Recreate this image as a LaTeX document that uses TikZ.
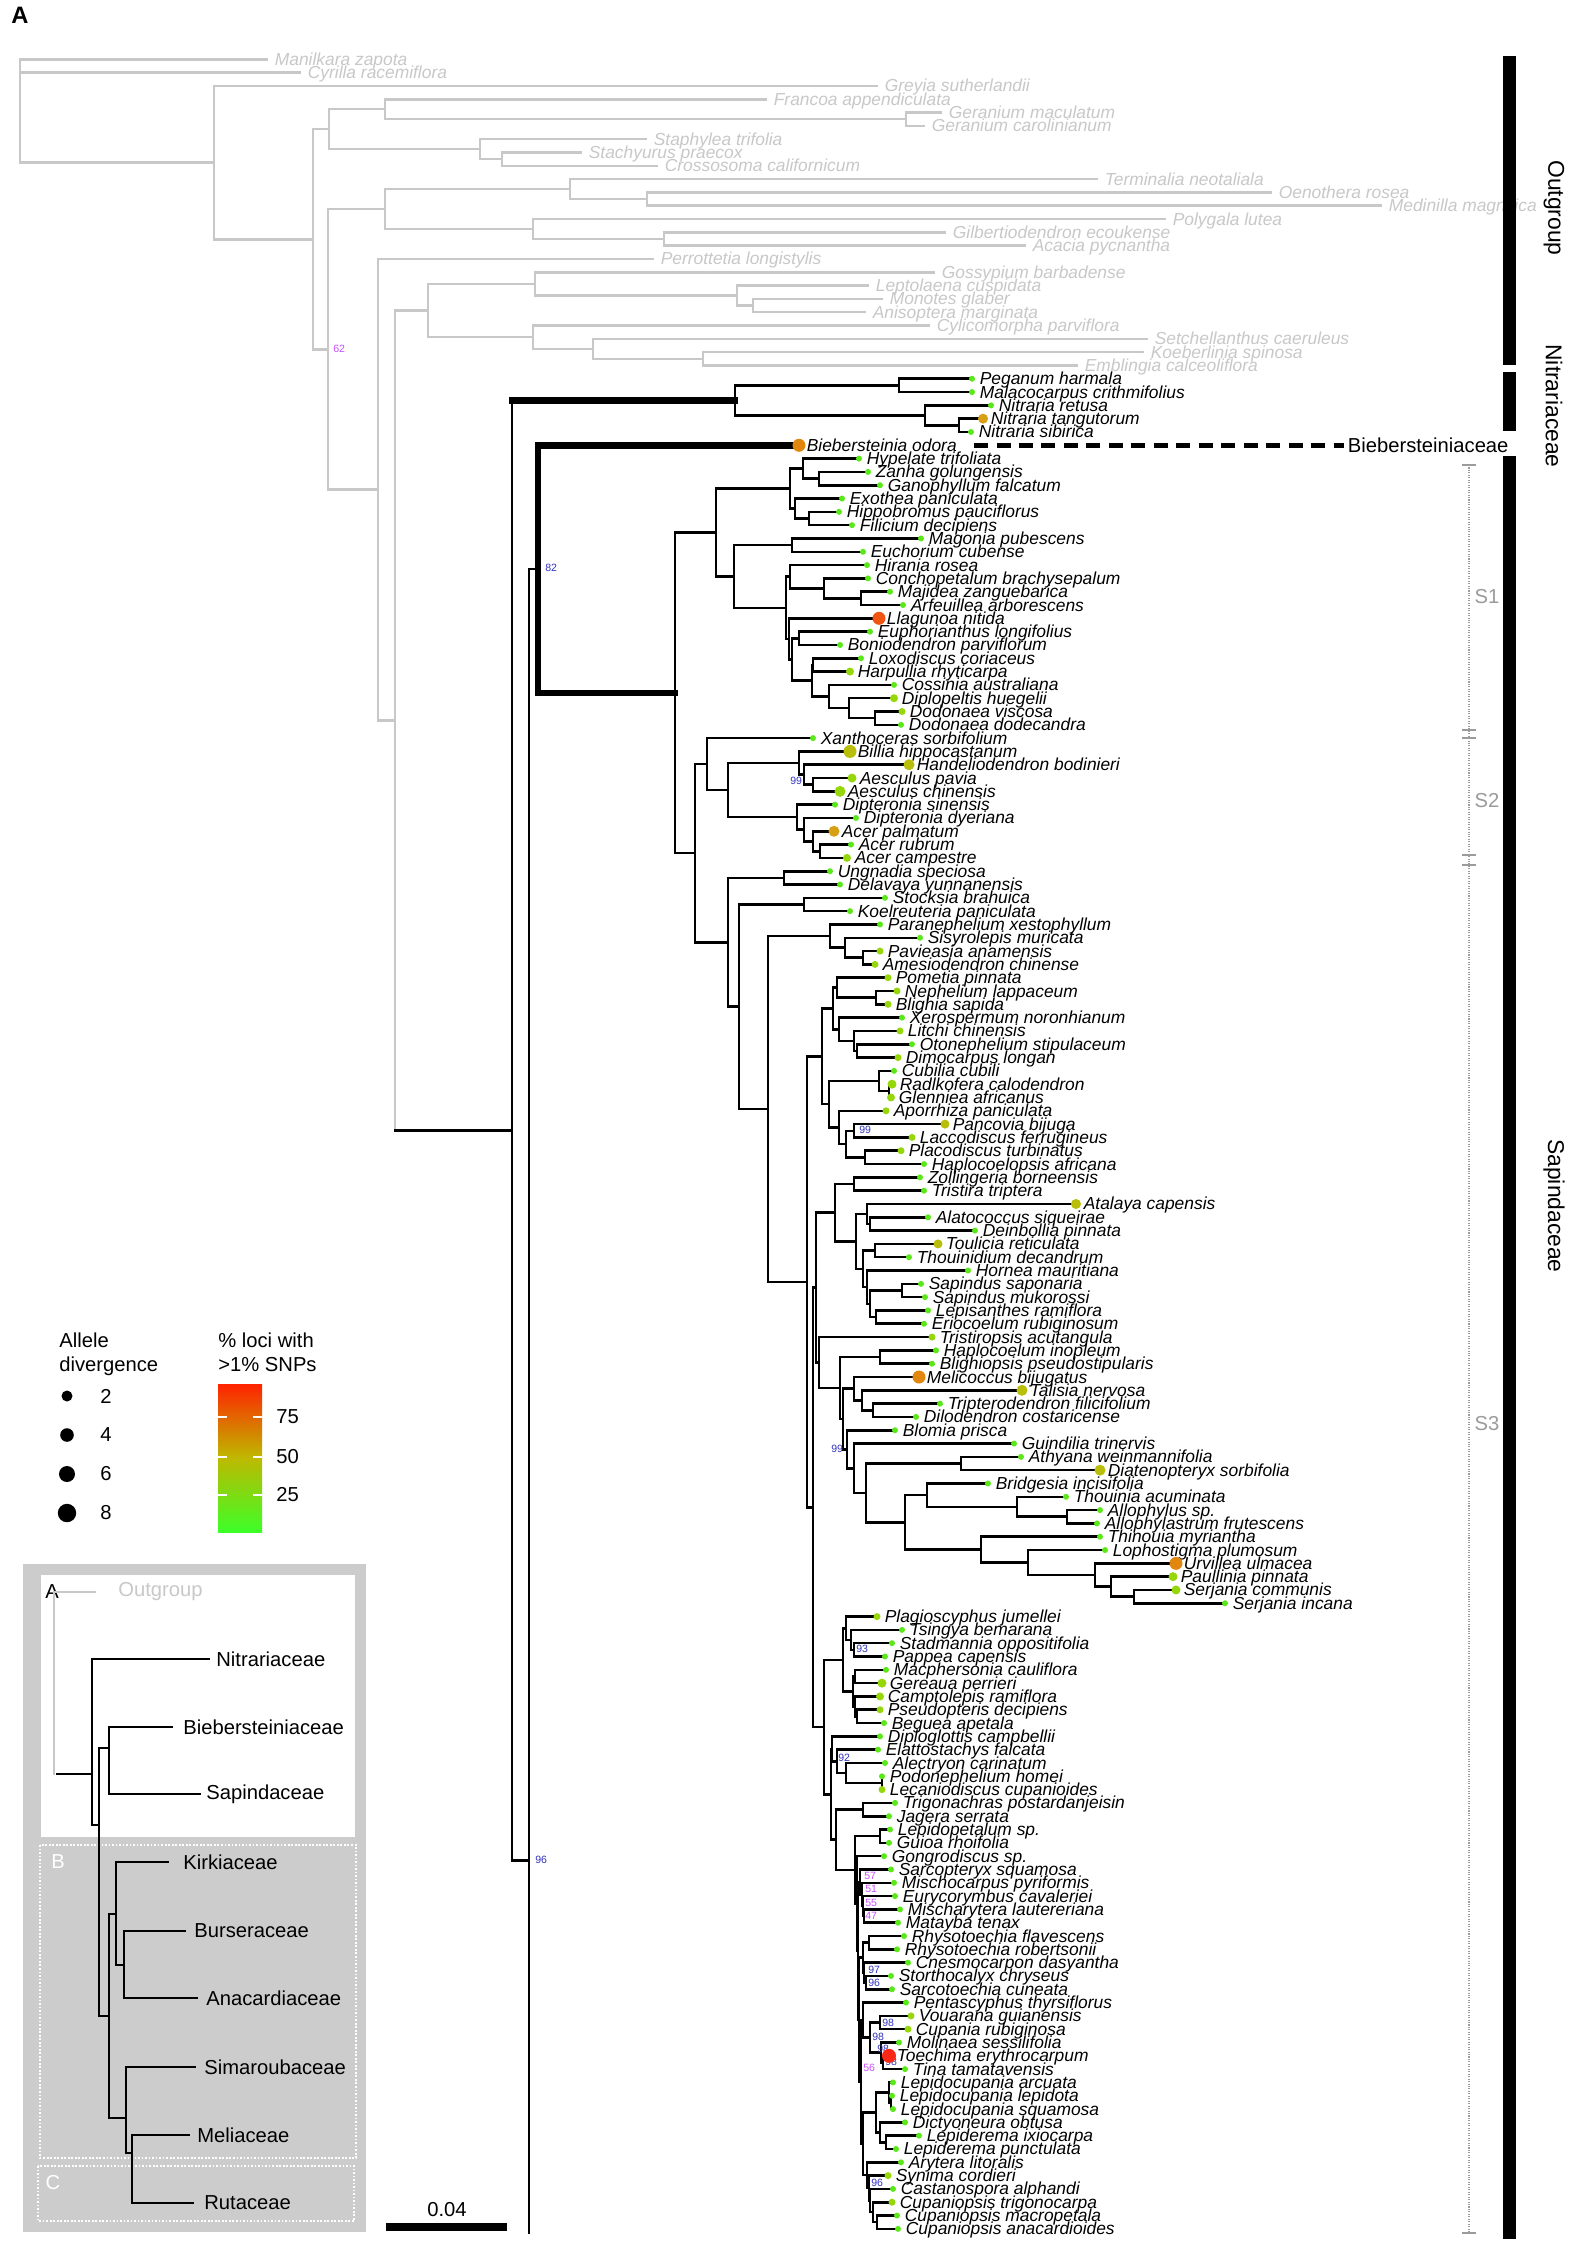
\documentclass[tikz,border=0pt]{standalone}
\usepackage{fontspec}
\setmainfont{Liberation Sans}
\usetikzlibrary{calc}
\usetikzlibrary{backgrounds}

\definecolor{ogrey}{RGB}{200,200,200}
\definecolor{gA}{RGB}{90,232,25}
\definecolor{gB}{RGB}{150,215,10}
\definecolor{gC}{RGB}{185,190,10}
\definecolor{gD}{RGB}{215,160,20}
\definecolor{gE}{RGB}{225,135,15}
\definecolor{gF}{RGB}{240,85,20}
\definecolor{gG}{RGB}{250,40,20}
\definecolor{bsblue}{RGB}{50,50,190}
\definecolor{bspink}{RGB}{200,80,255}
\definecolor{boxgrey}{RGB}{204,204,204}
\definecolor{sgrey}{RGB}{155,155,155}
\definecolor{cRed}{RGB}{255,35,0}
\definecolor{cMid}{RGB}{190,185,0}
\definecolor{cGrn}{RGB}{60,255,40}

\tikzset{
  br/.style={line width=1.45pt, line cap=rect},
  og/.style={br, draw=ogrey},
  thk/.style={line width=3.8pt, line cap=rect},
  tiplab/.style={anchor=base west, inner sep=0pt, xshift=0.15cm, yshift=-0.12cm,
    font=\fontsize{9.9}{10}\selectfont\itshape},
  oglab/.style={tiplab, text=ogrey},
  bsval/.style={font=\fontsize{6}{6}\selectfont, inner sep=0pt, anchor=west},
  leg/.style={font=\fontsize{11.5}{13}\selectfont, inner sep=0pt},
  side/.style={font=\fontsize{13}{13}\selectfont, rotate=-90, inner sep=0pt},
}

% tip: name, x, row, colour, dot radius (px), label
\newcommand{\taxon}[6]{%
  \coordinate (#1) at (#2,{59.3+13.31*#3});
  \fill[#4] (#1) circle[radius={#5*0.02cm}];
  \node[tiplab] (#1-l) at (#1) {#6};}
\newcommand{\gtaxon}[4]{\taxon{#1}{#2}{#3}{gA}{3}{#4}}
\newcommand{\ogtaxon}[4]{%
  \coordinate (#1) at (#2,{59.3+13.31*#3});
  \node[oglab] (#1-l) at (#1) {#4};}
% inner node: name, x, child, child
\newcommand{\clade}[4]{%
  \path let \p1=(#3), \p2=(#4) in ({#2*0.02cm},{(\y1+\y2)/2}) coordinate (#1);}

\begin{document}
\begin{tikzpicture}[x=0.02cm,y=-0.02cm]
\useasboundingbox (0,0) rectangle (1579,2263);

\node[font=\fontsize{13.5}{14}\selectfont\bfseries, inner sep=0pt] (panel) at (20,15.5) {A};

% outgroup
\ogtaxon{man}{267}{0}{Manilkara zapota}
\ogtaxon{cyr}{300}{1}{Cyrilla racemiflora}
\ogtaxon{gre}{877}{2}{Greyia sutherlandii}
\ogtaxon{fra}{766}{3}{Francoa appendiculata}
\ogtaxon{gma}{941}{4}{Geranium maculatum}
\ogtaxon{gca}{924}{5}{Geranium carolinianum}
\ogtaxon{sta}{646}{6}{Staphylea trifolia}
\ogtaxon{sty}{581}{7}{Stachyurus praecox}
\ogtaxon{cro}{657}{8}{Crossosoma californicum}
\ogtaxon{ter}{1097}{9}{Terminalia neotaliala}
\ogtaxon{oen}{1271}{10}{Oenothera rosea}
\ogtaxon{med}{1381}{11}{Medinilla magnifica}
\ogtaxon{pol}{1165}{12}{Polygala lutea}
\ogtaxon{gil}{945}{13}{Gilbertiodendron ecoukense}
\ogtaxon{aca}{1025}{14}{Acacia pycnantha}
\ogtaxon{per}{653}{15}{Perrottetia longistylis}
\ogtaxon{gos}{934}{16}{Gossypium barbadense}
\ogtaxon{lep}{868}{17}{Leptolaena cuspidata}
\ogtaxon{mon}{882}{18}{Monotes glaber}
\ogtaxon{ani}{865}{19}{Anisoptera marginata}
\ogtaxon{cyl}{929}{20}{Cylicomorpha parviflora}
\ogtaxon{setch}{1147}{21}{Setchellanthus caeruleus}
\ogtaxon{koe}{1143}{22}{Koeberlinia spinosa}
\ogtaxon{emb}{1077}{23}{Emblingia calceoliflora}

\clade{ger}{906}{gma}{gca}
\clade{fg}{385}{fra}{ger}
\clade{stc}{502}{sty}{cro}
\clade{stp}{480}{sta}{stc}
\clade{oz1}{329}{fg}{stp}
\clade{oe}{647}{oen}{med}
\clade{tm}{570}{ter}{oe}
\clade{ga}{664}{gil}{aca}
\clade{pg}{533}{pol}{ga}
\clade{zt}{385}{tm}{pg}
\clade{mo}{753}{mon}{ani}
\clade{lm}{737}{lep}{mo}
\clade{gl}{535}{gos}{lm}
\clade{ke}{703}{koe}{emb}
\clade{sk}{593}{setch}{ke}
\clade{cs}{533}{cyl}{sk}
\clade{on3}{428}{gl}{cs}

% Nitrariaceae, Biebersteiniaceae
\gtaxon{peg}{972}{24}{Peganum harmala}
\gtaxon{mal}{972}{25}{Malacocarpus crithmifolius}
\gtaxon{nre}{991}{26}{Nitraria retusa}
\taxon{nta}{983}{27}{gD}{5}{Nitraria tangutorum}
\gtaxon{nsi}{971}{28}{Nitraria sibirica}
\clade{pm}{899}{peg}{mal}
\clade{ns}{959}{nta}{nsi}
\clade{nr}{925}{nre}{ns}
\clade{nit}{735}{pm}{nr}
\taxon{bie}{799}{29}{gE}{6.5}{Biebersteinia odora}

% S1
\gtaxon{hyp}{859}{30}{Hypelate trifoliata}
\gtaxon{zan}{868}{31}{Zanha golungensis}
\gtaxon{gan}{880}{32}{Ganophyllum falcatum}
\gtaxon{exo}{842}{33}{Exothea paniculata}
\gtaxon{hip}{839}{34}{Hippobromus pauciflorus}
\gtaxon{fil}{852}{35}{Filicium decipiens}
\gtaxon{mag}{921}{36}{Magonia pubescens}
\gtaxon{euc}{863}{37}{Euchorium cubense}
\gtaxon{hir}{867}{38}{Hirania rosea}
\gtaxon{con}{868}{39}{Conchopetalum brachysepalum}
\gtaxon{maj}{890}{40}{Majidea zanguebarica}
\gtaxon{arf}{903}{41}{Arfeuillea arborescens}
\taxon{lla}{879}{42}{gF}{6.5}{Llagunoa nitida}
\gtaxon{eup}{870}{43}{Euphorianthus longifolius}
\gtaxon{bon}{840}{44}{Boniodendron parviflorum}
\gtaxon{lox}{861}{45}{Loxodiscus coriaceus}
\taxon{har}{850}{46}{gB}{4}{Harpullia rhyticarpa}
\gtaxon{cos}{894}{47}{Cossinia australiana}
\taxon{dip}{894}{48}{gB}{4}{Diplopeltis huegelii}
\taxon{dvi}{902}{49}{gB}{3.5}{Dodonaea viscosa}
\gtaxon{ddo}{901}{50}{Dodonaea dodecandra}

\clade{zg}{819}{zan}{gan}
\clade{hz}{803}{hyp}{zg}
\clade{hf}{809}{hip}{fil}
\clade{eh}{795}{exo}{hf}
\clade{s1a}{790}{hz}{eh}
\clade{me}{792}{mag}{euc}
\clade{mar}{861}{maj}{arf}
\clade{cmj}{824}{con}{mar}
\clade{hc}{790}{hir}{cmj}
\clade{eb}{799}{eup}{bon}
\clade{lh}{813}{lox}{har}
\clade{dd}{875}{dvi}{ddo}
\clade{dp}{849}{dip}{dd}
\clade{cd}{829}{cos}{dp}
\clade{lc}{812}{lh}{cd}
\clade{l3}{792}{eb}{lc}
\clade{l2}{789}{lla}{l3}
\clade{l1}{786}{hc}{l2}
\clade{s1b}{734}{me}{l1}
\clade{s1}{716}{s1a}{s1b}

% S2
\gtaxon{xan}{813}{51}{Xanthoceras sorbifolium}
\taxon{bil}{850}{52}{gC}{6.5}{Billia hippocastanum}
\taxon{han}{909}{53}{gC}{5.5}{Handeliodendron bodinieri}
\taxon{aep}{852}{54}{gB}{4.5}{Aesculus pavia}
\taxon{aec}{840}{55}{gB}{5.5}{Aesculus chinensis}
\gtaxon{dsi}{835}{56}{Dipteronia sinensis}
\gtaxon{ddy}{856}{57}{Dipteronia dyeriana}
\taxon{apa}{834}{58}{gD}{5.5}{Acer palmatum}
\gtaxon{aru}{851}{59}{Acer rubrum}
\taxon{acm}{847}{60}{gB}{4}{Acer campestre}

\clade{ae}{813}{aep}{aec}
\clade{ha}{804}{han}{ae}
\clade{bh}{799}{bil}{ha}
\clade{ar}{820}{aru}{acm}
\clade{ap}{813}{apa}{ar}
\clade{dy}{804}{ddy}{ap}
\clade{ds}{797}{dsi}{dy}
\clade{s2b}{728}{bh}{ds}
\clade{s2}{707}{xan}{s2b}

% S3
\gtaxon{ung}{830}{61}{Ungnadia speciosa}
\gtaxon{del}{840}{62}{Delavaya yunnanensis}
\gtaxon{sto}{885}{63}{Stocksia brahuica}
\gtaxon{kol}{850}{64}{Koelreuteria paniculata}
\gtaxon{par}{880}{65}{Paranephelium xestophyllum}
\gtaxon{sis}{920}{66}{Sisyrolepis muricata}
\taxon{pav}{880}{67}{gB}{3.5}{Pavieasia anamensis}
\taxon{ame}{875}{68}{gB}{3.5}{Amesiodendron chinense}
\taxon{pom}{888}{69}{gB}{3.5}{Pometia pinnata}
\taxon{nep}{897}{70}{gB}{3.5}{Nephelium lappaceum}
\taxon{bli}{888}{71}{gB}{3.5}{Blighia sapida}
\gtaxon{xer}{902}{72}{Xerospermum noronhianum}
\taxon{lit}{900}{73}{gB}{3.5}{Litchi chinensis}
\gtaxon{oto}{912}{74}{Otonephelium stipulaceum}
\taxon{dim}{898}{75}{gB}{3.5}{Dimocarpus longan}
\gtaxon{cub}{894}{76}{Cubilia cubili}
\taxon{rad}{892}{77}{gB}{4.5}{Radlkofera calodendron}
\taxon{gle}{891}{78}{gB}{4}{Glenniea africanus}
\taxon{apo}{886}{79}{gB}{3.5}{Aporrhiza paniculata}
\taxon{pan}{945}{80}{gC}{4.5}{Pancovia bijuga}
\taxon{lac}{912}{81}{gB}{3.5}{Laccodiscus ferrugineus}
\taxon{pla}{901}{82}{gB}{3.5}{Placodiscus turbinatus}
\gtaxon{hpa}{924}{83}{Haplocoelopsis africana}
\gtaxon{zol}{920}{84}{Zollingeria borneensis}
\gtaxon{tri}{924}{85}{Tristira triptera}
\taxon{ata}{1076}{86}{gC}{5}{Atalaya capensis}
\gtaxon{ala}{928}{87}{Alatococcus siqueirae}
\gtaxon{dei}{975}{88}{Deinbollia pinnata}
\taxon{tou}{938}{89}{gC}{4.5}{Toulicia reticulata}
\gtaxon{tho}{909}{90}{Thouinidium decandrum}
\gtaxon{hor}{968}{91}{Hornea mauritiana}
\gtaxon{ssa}{921}{92}{Sapindus saponaria}
\gtaxon{smu}{925}{93}{Sapindus mukorossi}
\gtaxon{lpr}{928}{94}{Lepisanthes ramiflora}
\gtaxon{eri}{924}{95}{Eriocoelum rubiginosum}
\taxon{tra}{932}{96}{gB}{3.5}{Tristiropsis acutangula}
\gtaxon{hin}{936}{97}{Haplocoelum inopleum}
\gtaxon{bps}{932}{98}{Blighiopsis pseudostipularis}
\taxon{mel}{919}{99}{gE}{6.5}{Melicoccus bijugatus}
\taxon{tal}{1022}{100}{gC}{5.5}{Talisia nervosa}
\gtaxon{tfi}{940}{101}{Tripterodendron filicifolium}
\gtaxon{dil}{916}{102}{Dilodendron costaricense}
\gtaxon{blo}{895}{103}{Blomia prisca}
\gtaxon{gui}{1014}{104}{Guindilia trinervis}
\gtaxon{ath}{1021}{105}{Athyana weinmannifolia}
\taxon{dia}{1100}{106}{gC}{5.5}{Diatenopteryx sorbifolia}
\gtaxon{bri}{988}{107}{Bridgesia incisifolia}
\gtaxon{thu}{1066}{108}{Thouinia acuminata}
\gtaxon{all}{1100}{109}{Allophylus sp.}
\gtaxon{alf}{1097}{110}{Allophylastrum frutescens}
\gtaxon{thi}{1100}{111}{Thinouia myriantha}
\gtaxon{lop}{1105}{112}{Lophostigma plumosum}
\taxon{urv}{1176}{113}{gE}{6.5}{Urvillea ulmacea}
\taxon{pau}{1173}{114}{gB}{4.5}{Paullinia pinnata}
\taxon{sco}{1176}{115}{gB}{4.5}{Serjania communis}
\gtaxon{sin}{1225}{116}{Serjania incana}
\taxon{plg}{877}{117}{gB}{3.5}{Plagioscyphus jumellei}
\gtaxon{tsi}{902}{118}{Tsingya bemarana}
\gtaxon{stm}{892}{119}{Stadmannia oppositifolia}
\gtaxon{pap}{885}{120}{Pappea capensis}
\gtaxon{mac}{886}{121}{Macphersonia cauliflora}
\taxon{gpe}{882}{122}{gB}{4.5}{Gereaua perrieri}
\taxon{cam}{880}{123}{gB}{4}{Camptolepis ramiflora}
\taxon{pse}{880}{124}{gB}{3.5}{Pseudopteris decipiens}
\gtaxon{beg}{884}{125}{Beguea apetala}
\gtaxon{dpc}{880}{126}{Diploglottis campbellii}
\gtaxon{ela}{878}{127}{Elattostachys falcata}
\gtaxon{alc}{885}{128}{Alectryon carinatum}
\gtaxon{pod}{882}{129}{Podonephelium homei}
\taxon{lec}{882}{130}{gB}{3.5}{Lecaniodiscus cupanioides}
\gtaxon{trg}{895}{131}{Trigonachras postardanjeisin}
\gtaxon{jag}{889}{132}{Jagera serrata}
\gtaxon{lpd}{890}{133}{Lepidopetalum sp.}
\gtaxon{gio}{889}{134}{Guioa rhoifolia}
\gtaxon{gon}{884}{135}{Gongrodiscus sp.}
\gtaxon{sar}{891}{136}{Sarcopteryx squamosa}
\gtaxon{mis}{894}{137}{Mischocarpus pyriformis}
\gtaxon{eur}{895}{138}{Eurycorymbus cavaleriei}
\gtaxon{mly}{900}{139}{Mischarytera lautereriana}
\gtaxon{mat}{898}{140}{Matayba tenax}
\gtaxon{rfl}{904}{141}{Rhysotoechia flavescens}
\gtaxon{rro}{897}{142}{Rhysotoechia robertsonii}
\gtaxon{cne}{908}{143}{Cnesmocarpon dasyantha}
\gtaxon{sth}{891}{144}{Storthocalyx chryseus}
\gtaxon{sct}{892}{145}{Sarcotoechia cuneata}
\gtaxon{pen}{906}{146}{Pentascyphus thyrsiflorus}
\taxon{vou}{911}{147}{gB}{3.5}{Vouarana guianensis}
\taxon{cup}{908}{148}{gB}{3.5}{Cupania rubiginosa}
\gtaxon{mol}{899}{149}{Molinaea sessilifolia}
\taxon{toe}{889}{150}{gG}{7}{Toechima erythrocarpum}
\gtaxon{tin}{905}{151}{Tina tamatavensis}
\gtaxon{lar}{893}{152}{Lepidocupania arcuata}
\gtaxon{lle}{892}{153}{Lepidocupania lepidota}
\gtaxon{lsq}{893}{154}{Lepidocupania squamosa}
\gtaxon{dic}{905}{155}{Dictyoneura obtusa}
\gtaxon{lix}{919}{156}{Lepiderema ixiocarpa}
\gtaxon{lpu}{896}{157}{Lepiderema punctulata}
\gtaxon{ary}{901}{158}{Arytera litoralis}
\taxon{syn}{888}{159}{gB}{3.5}{Synima cordieri}
\gtaxon{cas}{893}{160}{Castanospora alphandi}
\taxon{ctr}{892}{161}{gB}{3.5}{Cupaniopsis trigonocarpa}
\gtaxon{cma}{897}{162}{Cupaniopsis macropetala}
\gtaxon{can}{898}{163}{Cupaniopsis anacardioides}

\clade{ud}{784}{ung}{del}
\clade{skc}{804}{sto}{kol}
\clade{am}{863}{pav}{ame}
\clade{sa}{845}{sis}{am}
\clade{pa}{830}{par}{sa}
\clade{nb}{876}{nep}{bli}
\clade{pn}{837}{pom}{nb}
\clade{od}{857}{oto}{dim}
\clade{lo}{854}{lit}{od}
\clade{xl}{839}{xer}{lo}
\clade{p1}{833}{pn}{xl}
\clade{rg}{889}{rad}{gle}
\clade{cr}{879}{cub}{rg}
\clade{pl}{854}{pan}{lac}
\clade{ph}{865}{pla}{hpa}
\clade{pp}{846}{pl}{ph}
\clade{ax}{839}{apo}{pp}
\clade{w3}{829}{cr}{ax}
\clade{w1}{822}{p1}{w3}
\clade{zo}{854}{zol}{tri}
\clade{ad}{870}{ala}{dei}
\clade{atn}{867}{ata}{ad}
\clade{tt}{875}{tou}{tho}
\clade{sp}{902}{ssa}{smu}
\clade{le}{876}{lpr}{eri}
\clade{sl}{870}{sp}{le}
\clade{hs}{867}{hor}{sl}
\clade{th}{863}{tt}{hs}
\clade{ah}{856}{atn}{th}
\clade{za}{835}{zo}{ah}
\clade{hb}{880}{hin}{bps}
\clade{td}{873}{tfi}{dil}
\clade{tl}{862}{tal}{td}
\clade{ml}{854}{mel}{tl}
\clade{adt}{961}{ath}{dia}
\clade{alp}{1067}{all}{alf}
\clade{tha}{1017}{thu}{alp}
\clade{bg}{927}{bri}{tha}
\clade{sj}{1134}{sco}{sin}
\clade{ps}{1111}{pau}{sj}
\clade{us}{1095}{urv}{ps}
\clade{lu}{1028}{lop}{us}
\clade{tn}{981}{thi}{lu}
\clade{bt}{905}{bg}{tn}
\clade{ab}{866}{adt}{bt}
\clade{gd}{854}{gui}{ab}
\clade{bl}{847}{blo}{gd}
\clade{q3}{843}{ml}{bl}
\clade{q2}{840}{hb}{q3}
\clade{tq}{819}{tra}{q2}
\clade{zq}{816}{za}{tq}
\clade{spp}{854}{stm}{pap}
\clade{ts}{851}{tsi}{spp}
\clade{ptg}{846}{plg}{ts}
\clade{mg}{855}{mac}{gpe}
\clade{pb}{857}{pse}{beg}
\clade{cp}{855}{cam}{pb}
\clade{g3}{853}{mg}{cp}
\clade{pgr}{843}{ptg}{g3}
\clade{plc}{882}{pod}{lec}
\clade{apl}{846}{alc}{plc}
\clade{eap}{837}{ela}{apl}
\clade{dg}{832}{dpc}{eap}
\clade{tj}{863}{trg}{jag}
\clade{lg}{880}{lpd}{gio}
\clade{mm}{864}{mly}{mat}
\clade{em}{863}{eur}{mm}
\clade{mi}{862}{mis}{em}
\clade{sm}{860}{sar}{mi}
\clade{rh}{869}{rfl}{rro}
\clade{ss}{866}{sth}{sct}
\clade{cn}{864}{cne}{ss}
\clade{rc}{863}{rh}{cn}
\clade{vc}{880}{vou}{cup}
\clade{tti}{883}{toe}{tin}
\clade{mt}{881}{mol}{tti}
\clade{vm}{870}{vc}{mt}
\clade{pv}{863}{pen}{vm}
\clade{lls}{891}{lle}{lsq}
\clade{lpc}{889}{lar}{lls}
\clade{lx}{886}{lix}{lpu}
\clade{dl}{880}{dic}{lx}
\clade{ld}{876}{lpc}{dl}
\clade{cmc}{877}{cma}{can}
\clade{ctc}{873}{ctr}{cmc}
\clade{cac}{870}{cas}{ctc}
\clade{syc}{869}{syn}{cac}
\clade{arc}{867}{ary}{syc}
\clade{la}{863}{ld}{arc}
\clade{z56}{861}{pv}{la}
\clade{z4}{859}{rc}{z56}
\clade{z3}{858}{sm}{z4}
\clade{z2}{857}{gon}{z3}
\clade{zc}{855}{lg}{z2}
\clade{tjz}{836}{tj}{zc}
\clade{ny2}{831}{dg}{tjz}
\clade{ny1}{824}{pgr}{ny2}
\clade{nx1}{813}{zq}{ny1}
\clade{s3v}{807}{w1}{nx1}
\clade{s3u}{768}{pa}{s3v}
\clade{s3t}{739}{skc}{s3u}
\clade{s3}{728}{ud}{s3t}

\clade{rr}{695}{s2}{s3}
\clade{sap}{675}{s1}{rr}
\clade{bs}{538}{bie}{sap}
\coordinate (c529) at (529,1860.6);
\coordinate (cut) at (529,2233);
\clade{ing}{512}{nit}{c529}
\clade{on2}{395}{on3}{ing}
\clade{on1}{378}{per}{on2}
\clade{oz2}{328}{zt}{on1}
\clade{oy}{313}{oz1}{oz2}
\clade{ox}{214}{gre}{oy}
\coordinate (root) at (20,59.3);

\begin{scope}[on background layer]
  \fill[white] (0,0) rectangle (1579,2263);
  \foreach \a/\b in {root/man,root/cyr,root/ox,ox/gre,ox/oy,oy/oz1,oy/oz2,
    oz1/fg,oz1/stp,fg/fra,fg/ger,ger/gma,ger/gca,stp/sta,stp/stc,stc/sty,
    stc/cro,oz2/zt,oz2/on1,zt/tm,zt/pg,tm/ter,tm/oe,oe/oen,oe/med,pg/pol,
    pg/ga,ga/gil,ga/aca,on1/per,on1/on2,on2/on3,on3/gl,on3/cs,gl/gos,gl/lm,
    lm/lep,lm/mo,mo/mon,mo/ani,cs/cyl,cs/sk,sk/setch,sk/ke,ke/koe,ke/emb}
    \draw[og] (\a) |- (\b);
  \draw[og] (on2) -- (on2 |- ing);
  \draw[br] (on2 |- ing) -- (ing);

  \foreach \a/\b in {ing/nit,ing/c529,c529/bs,nit/pm,nit/nr,pm/peg,pm/mal,
    nr/nre,nr/ns,ns/nta,ns/nsi,sap/s1,sap/rr,s1/s1a,s1/s1b,s1a/hz,s1a/eh,
    hz/hyp,hz/zg,zg/zan,zg/gan,eh/exo,eh/hf,hf/hip,hf/fil,s1b/me,s1b/l1,
    me/mag,me/euc,l1/hc,l1/l2,hc/hir,hc/cmj,cmj/con,cmj/mar,mar/maj,mar/arf,
    l2/lla,l2/l3,l3/eb,l3/lc,eb/eup,eb/bon,lc/lh,lc/cd,lh/lox,lh/har,cd/cos,
    cd/dp,dp/dip,dp/dd,dd/dvi,dd/ddo}
    \draw[br] (\a) |- (\b);
  \draw[br] (c529) -- (cut);
  \draw[thk] (ing |- nit) -- (nit);
  \draw[thk] (bs) |- (bie);
  \draw[thk] (bs) |- (sap);

  \foreach \a/\b in {rr/s2,rr/s3,s2/xan,s2/s2b,s2b/bh,s2b/ds,bh/bil,bh/ha,
    ha/han,ha/ae,ae/aep,ae/aec,ds/dsi,ds/dy,dy/ddy,dy/ap,ap/apa,ap/ar,ar/aru,
    ar/acm,s3/ud,s3/s3t,ud/ung,ud/del,s3t/skc,s3t/s3u,skc/sto,skc/kol,
    s3u/pa,s3u/s3v,pa/par,pa/sa,sa/sis,sa/am,am/pav,am/ame,s3v/w1,s3v/nx1,
    w1/p1,w1/w3,p1/pn,p1/xl,pn/pom,pn/nb,nb/nep,nb/bli,xl/xer,xl/lo,lo/lit,
    lo/od,od/oto,od/dim,w3/cr,w3/ax,cr/cub,cr/rg,rg/rad,rg/gle,ax/apo,ax/pp,
    pp/pl,pp/ph,pl/pan,pl/lac,ph/pla,ph/hpa}
    \draw[br] (\a) |- (\b);

  \foreach \a/\b in {nx1/zq,nx1/ny1,zq/za,zq/tq,za/zo,za/ah,zo/zol,zo/tri,
    ah/atn,ah/th,atn/ata,atn/ad,ad/ala,ad/dei,th/tt,th/hs,tt/tou,tt/tho,
    hs/hor,hs/sl,sl/sp,sl/le,sp/ssa,sp/smu,le/lpr,le/eri,tq/tra,tq/q2,q2/hb,
    q2/q3,hb/hin,hb/bps,q3/ml,q3/bl,ml/mel,ml/tl,tl/tal,tl/td,td/tfi,td/dil,
    bl/blo,bl/gd,gd/gui,gd/ab,ab/adt,ab/bt,adt/ath,adt/dia,bt/bg,bt/tn,
    bg/bri,bg/tha,tha/thu,tha/alp,alp/all,alp/alf,tn/thi,tn/lu,lu/lop,lu/us,
    us/urv,us/ps,ps/pau,ps/sj,sj/sco,sj/sin}
    \draw[br] (\a) |- (\b);

  \foreach \a/\b in {ny1/pgr,ny1/ny2,pgr/ptg,pgr/g3,ptg/plg,ptg/ts,ts/tsi,
    ts/spp,spp/stm,spp/pap,g3/mg,g3/cp,mg/mac,mg/gpe,cp/cam,cp/pb,pb/pse,
    pb/beg,ny2/dg,ny2/tjz,dg/dpc,dg/eap,eap/ela,eap/apl,apl/alc,apl/plc,
    plc/pod,plc/lec,tjz/tj,tjz/zc,tj/trg,tj/jag,zc/lg,zc/z2,lg/lpd,lg/gio,
    z2/gon,z2/z3,z3/sm,z3/z4,sm/sar,sm/mi,mi/mis,mi/em,em/eur,em/mm,mm/mly,
    mm/mat,z4/rc,z4/z56,rc/rh,rc/cn,rh/rfl,rh/rro,cn/cne,cn/ss,ss/sth,ss/sct,
    z56/pv,z56/la,pv/pen,pv/vm,vm/vc,vm/mt,vc/vou,vc/cup,mt/mol,mt/tti,
    tti/toe,tti/tin,la/ld,la/arc,ld/lpc,ld/dl,lpc/lar,lpc/lls,lls/lle,
    lls/lsq,dl/dic,dl/lx,lx/lix,lx/lpu,arc/ary,arc/syc,syc/syn,syc/cac,
    cac/cas,cac/ctc,ctc/ctr,ctc/cmc,cmc/cma,cmc/can}
    \draw[br] (\a) |- (\b);

  % support values
  \node[bsval, text=bspink] (v62) at (333,349) {62};
  \node[bsval, text=bsblue] (v82) at (545,568) {82};
  \node[bsval, text=bsblue] (v96a) at (535,1860) {96};
  \node[bsval, text=bsblue] (v99a) at (790,781) {99};
  \node[bsval, text=bsblue] (v99b) at (859,1130) {99};
  \node[bsval, text=bsblue] (v99c) at (831,1449) {99};
  \node[bsval, text=bsblue] (v93) at (856,1649) {93};
  \node[bsval, text=bsblue] (v92) at (838,1758) {92};
  \node[bsval, text=bspink] (v57) at (864,1876) {57};
  \node[bsval, text=bspink] (v51) at (865,1889) {51};
  \node[bsval, text=bspink] (v55) at (865,1903) {55};
  \node[bsval, text=bspink] (v47) at (865,1916) {47};
  \node[bsval, text=bsblue] (v97) at (868,1970) {97};
  \node[bsval, text=bsblue] (v96b) at (868,1983) {96};
  \node[bsval, text=bsblue] (v98a) at (882,2023) {98};
  \node[bsval, text=bsblue] (v98b) at (872,2037) {98};
  \node[bsval, text=bsblue] (v98c) at (877,2049) {98};
  \node[bsval, text=bsblue] (v98d) at (885,2062) {98};
  \node[bsval, text=bspink] (v56) at (863,2068) {56};
  \node[bsval, text=bsblue] (v96c) at (871,2183) {96};
\end{scope}

% Biebersteiniaceae
\coordinate (dsh) at (974,445.3);
\node[font=\fontsize{11.5}{13}\selectfont, anchor=west, inner sep=2pt] (fBie) at (1344,445.3) {Biebersteiniaceae};
\draw[line width=2.6pt, dash pattern=on 0.28cm off 0.17cm] (dsh) -- (fBie);

% family bars
\fill (1503,56) rectangle (1516,365);
\fill (1503,372) rectangle (1516,431);
\fill (1503,456) rectangle (1516,2239);
\node[side] (fOut) at (1554,208) {Outgroup};
\node[side] (fNit) at (1554,406) {Nitrariaceae};
\node[side] (fSap) at (1554,1206) {Sapindaceae};

% subclades
\coordinate (stop) at (1469,465);
\coordinate (sbot) at (1469,2233);
\draw[sgrey, line width=1.1pt, dash pattern=on 0.6pt off 0.8pt] (stop) -- (sbot);
\foreach \yy in {465,730,738,855,865,2233}
  \draw[sgrey, line width=1.2pt] (1462,\yy) -- (1476,\yy);
\node[leg, text=sgrey] (sS1) at (1487,597) {S1};
\node[leg, text=sgrey] (sS2) at (1487,801) {S2};
\node[leg, text=sgrey] (sS3) at (1487,1424) {S3};

% scale bar
\coordinate (sb1) at (386,2227);
\coordinate (sb2) at (507,2227);
\draw[line width=4.2pt] (sb1) -- (sb2);
\node[leg] (sbl) at (447,2210) {0.04};

% legend
\node[leg, anchor=base west] (alle) at (59,1347) {Allele};
\node[leg, anchor=base west] (div) at (59,1371) {divergence};
\foreach \yy/\rr/\nn in {1396/5.5/2,1435/6.8/4,1474/8/6,1513/9.2/8} {
  \fill (67,\yy) circle[radius={\rr*0.02cm}];
  \node[leg, anchor=west] (sz\nn) at (100,\yy) {\nn};
}
\node[leg, anchor=base west] (loci) at (218,1347) {\% loci with};
\node[leg, anchor=base west] (snp) at (218,1371) {>1\% SNPs};
\shade[top color=cRed, bottom color=cGrn, middle color=cMid] (218,1384) rectangle (262,1532);
\foreach \yy/\vv in {1417/75,1457/50,1495/25} {
  \draw[white, line width=0.6pt] (218,\yy) -- (227,\yy) (253,\yy) -- (262,\yy);
  \node[leg, anchor=west] (pc\vv) at (276,\yy) {\vv};
}

% inset
\fill[boxgrey] (23,1564) rectangle (366,2232);
\fill[white] (41,1575) rectangle (355,1837);
\draw[white, line width=0.9pt, dash pattern=on 1pt off 1pt] (40,1845) rectangle (356,2158);
\draw[white, line width=0.9pt, dash pattern=on 1pt off 1pt] (38,2166) rectangle (354,2221);
\node[leg] (iA) at (52,1592) {A};
\node[leg, text=white] (iB) at (58,1862) {B};
\node[leg, text=white] (iC) at (53,2183) {C};

\coordinate (iroot) at (54,1774);
\coordinate (iog) at (95,1592);
\coordinate (i0) at (92,1774);
\coordinate (init) at (209,1659);
\coordinate (i1) at (99,1825);
\coordinate (ibs) at (109,1748);
\coordinate (ibie) at (172,1727);
\coordinate (isap) at (200,1794);
\coordinate (i2) at (109,2016);
\coordinate (i3) at (116,1914);
\coordinate (ikir) at (168,1862);
\coordinate (i4) at (124,1965);
\coordinate (ibur) at (185,1931);
\coordinate (iana) at (197,1998);
\coordinate (i5) at (126,2118);
\coordinate (isim) at (195,2067);
\coordinate (i6) at (132,2153);
\coordinate (imel) at (189,2135);
\coordinate (irut) at (193,2203);
\draw[og] (iroot) |- (iog);
\draw[br] ([xshift=0.06cm]iroot) -- (i0);
\foreach \a/\b in {i0/init,i0/i1,i1/ibs,i1/i2,ibs/ibie,ibs/isap,i2/i3,i2/i5,
  i3/ikir,i3/i4,i4/ibur,i4/iana,i5/isim,i5/i6,i6/imel,i6/irut}
  \draw[br] (\a) |- (\b);
\node[leg, anchor=west, text=ogrey] (lOut) at (118,1592) {Outgroup};
\node[leg, anchor=west] (lNit) at (216,1659) {Nitrariaceae};
\node[leg, anchor=west] (lBie) at (183,1727) {Biebersteiniaceae};
\node[leg, anchor=west] (lSap) at (206,1794) {Sapindaceae};
\node[leg, anchor=west] (lKir) at (183,1862) {Kirkiaceae};
\node[leg, anchor=west] (lBur) at (194,1931) {Burseraceae};
\node[leg, anchor=west] (lAna) at (206,1998) {Anacardiaceae};
\node[leg, anchor=west] (lSim) at (204,2067) {Simaroubaceae};
\node[leg, anchor=west] (lMel) at (197,2135) {Meliaceae};
\node[leg, anchor=west] (lRut) at (204,2203) {Rutaceae};

\end{tikzpicture}
\end{document}
